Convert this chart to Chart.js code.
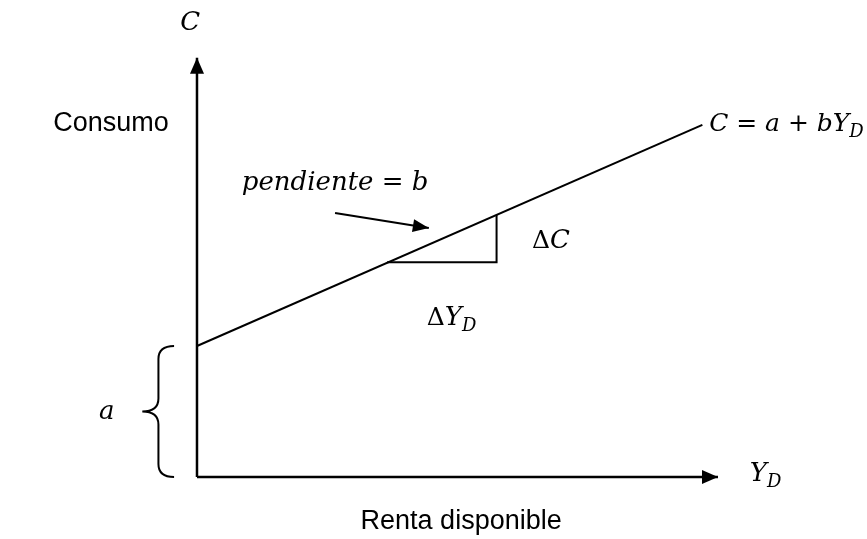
<!DOCTYPE html>
<html>
<head>
<meta charset="utf-8">
<script src="https://cdn.jsdelivr.net/npm/chart.js@4/dist/chart.umd.min.js"></script>
<style>
  html, body { margin: 0; padding: 0; background: #fff; }
  #wrap { width: 867px; height: 539px; }
</style>
</head>
<body>
<div id="wrap"><canvas id="myChart" width="867" height="539"></canvas></div>
<script>
// consumption function C = a + b*Yd
const a = 2.5;
const b = 0.435;
const lineYd = [0, 9.7];
const lineC = [2.5, 6.72];

// axes (length of each arrow, in data units)
const axisYd = [0, 10];
const axisC = [0, 8];

// slope triangle
const triYd = [3.65, 5.75, 5.75];
const triC = [4.1, 4.1, 5.0];

// pointer arrow "pendiente = b"
const ptrYd = [2.65, 4.45];
const ptrC = [5.04, 4.75];

// brace marking the intercept a
const braceC = [0, a];

const mathFont = 'italic 26px "DejaVu Serif"';
const uprightFont = '25px "DejaVu Serif"';
const subFont = 'italic 18px "DejaVu Serif"';
const textFont = '27px "Liberation Sans", Arial';

function pts(xs, ys) {
    return xs.map((x, i) => ({ x: x, y: ys[i] }));
}

const ctx = document.getElementById('myChart').getContext('2d');

const drawing = {
    id: 'drawing',
    afterDatasetsDraw(chart) {
        const c = chart.ctx;
        const sx = chart.scales.x;
        const sy = chart.scales.y;
        const px = v => sx.getPixelForValue(v);
        const py = v => sy.getPixelForValue(v);

        c.save();
        c.fillStyle = '#000';
        c.strokeStyle = '#000';

        // arrow heads
        function head(tx, ty, ang, len, hw) {
            c.beginPath();
            c.moveTo(tx, ty);
            c.lineTo(tx - len * Math.cos(ang) + hw * Math.sin(ang), ty - len * Math.sin(ang) - hw * Math.cos(ang));
            c.lineTo(tx - len * Math.cos(ang) - hw * Math.sin(ang), ty - len * Math.sin(ang) + hw * Math.cos(ang));
            c.closePath();
            c.fill();
        }
        head(px(0), py(axisC[1]), -Math.PI / 2, 16, 7);
        head(px(axisYd[1]), py(0), 0, 16, 7);

        const x0 = px(ptrYd[0]), y0 = py(ptrC[0]);
        const x1 = px(ptrYd[1]), y1 = py(ptrC[1]);
        head(x1, y1, Math.atan2(y1 - y0, x1 - x0), 16, 6.5);

        // brace
        const yt = py(braceC[1]), yb = py(braceC[0]);
        const ym = (yt + yb) / 2;
        const xe = px(-0.44), xs = px(-0.74), xt = px(-1.05);
        const r = 13;
        c.lineWidth = 2;
        c.beginPath();
        c.moveTo(xe, yt);
        c.quadraticCurveTo(xs, yt, xs, yt + r);
        c.lineTo(xs, ym - r);
        c.quadraticCurveTo(xs, ym, xt, ym);
        c.quadraticCurveTo(xs, ym, xs, ym + r);
        c.lineTo(xs, yb - r);
        c.quadraticCurveTo(xs, yb, xe, yb);
        c.stroke();

        // runs of text: [string, font, baseline shift]
        function runs(parts, x, y) {
            c.textBaseline = 'alphabetic';
            c.textAlign = 'left';
            let cx = x;
            parts.forEach(p => {
                c.font = p[1];
                c.fillText(p[0], cx, y + (p[2] || 0));
                cx += c.measureText(p[0]).width;
            });
        }

        c.font = mathFont;
        c.textAlign = 'center';
        c.textBaseline = 'alphabetic';
        c.fillText('C', px(-0.13), py(8.53));
        c.fillText('a', px(-1.73), py(1.11));

        c.textAlign = 'left';
        c.fillText('pendiente = b', px(0.86), py(5.48));
        runs([['\u0394', uprightFont], ['C', mathFont]], px(6.43), py(4.37));
        runs([['C = a + bY', 'italic 25px "DejaVu Serif"'], ['D', subFont, 6]], px(9.83), py(6.6));
        runs([['\u0394', uprightFont], ['Y', mathFont], ['D', subFont, 6]], px(4.41), py(2.9));
        runs([['Y', mathFont], ['D', subFont, 6]], px(10.61), py(-0.08));

        c.font = textFont;
        c.textAlign = 'center';
        c.fillText('Consumo', px(-1.65), py(6.6));
        c.fillText('Renta disponible', px(5.07), py(-0.99));

        c.restore();
    }
};

const myChart = new Chart(ctx, {
    type: 'scatter',
    data: {
        datasets: [
            {   // consumption line
                data: pts(lineYd, lineC),
                showLine: true,
                borderColor: '#000',
                borderWidth: 2,
                pointRadius: 0
            },
            {   // horizontal axis
                data: pts(axisYd, [0, 0]),
                showLine: true,
                borderColor: '#000',
                borderWidth: 2.5,
                pointRadius: 0
            },
            {   // vertical axis
                data: pts([0, 0], axisC),
                showLine: true,
                borderColor: '#000',
                borderWidth: 2.5,
                pointRadius: 0
            },
            {   // slope triangle
                data: pts(triYd, triC),
                showLine: true,
                borderColor: '#000',
                borderWidth: 2,
                pointRadius: 0
            },
            {   // pointer
                data: pts(ptrYd, ptrC),
                showLine: true,
                borderColor: '#000',
                borderWidth: 2,
                pointRadius: 0
            }
        ]
    },
    options: {
        responsive: false,
        animation: false,
        layout: { padding: 0 },
        plugins: {
            legend: { display: false },
            tooltip: { enabled: false }
        },
        scales: {
            x: { type: 'linear', display: false, min: -3.781, max: 12.86 },
            y: { type: 'linear', display: false, min: -1.183, max: 9.103 }
        }
    },
    plugins: [drawing]
});
</script>
</body>
</html>
